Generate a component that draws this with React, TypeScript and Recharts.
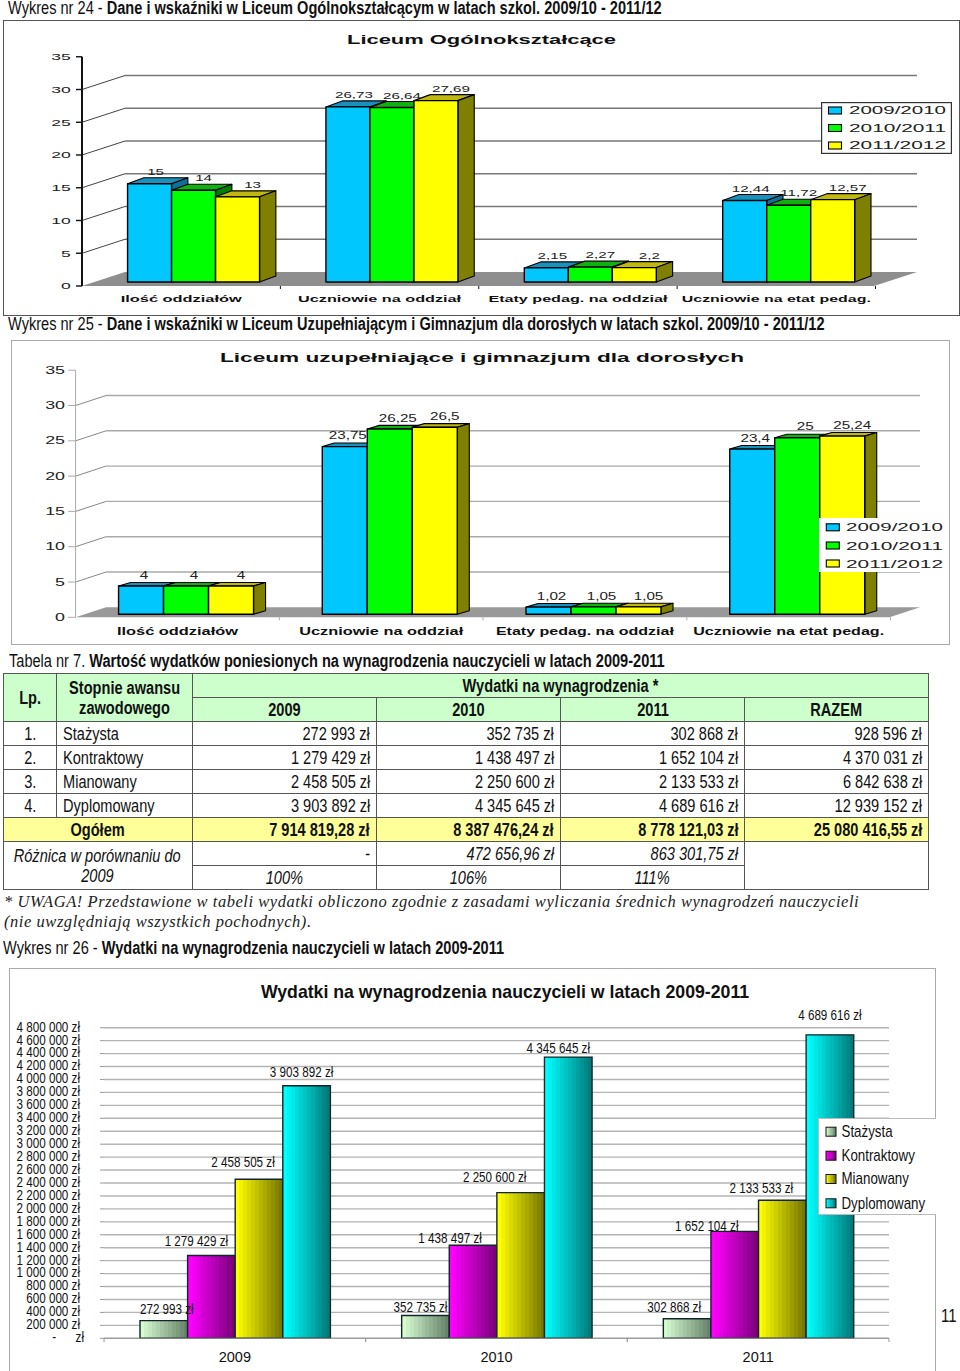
import React from "react";
import {
  BarChart,
  Bar,
  XAxis,
  YAxis,
  CartesianGrid,
  Legend,
  LabelList,
} from "recharts";

const schoolYears = ["2009/2010", "2010/2011", "2011/2012"];
const loCategories = ["Ilość oddziałów", "Uczniowie na oddział", "Etaty pedag. na oddział", "Uczniowie na etat pedag."];
const lo2009 = [15, 26.73, 2.15, 12.44];
const lo2010 = [14, 26.64, 2.27, 11.72];
const lo2011 = [13, 27.69, 2.2, 12.57];
const lu2009 = [4, 23.75, 1.02, 23.4];
const lu2010 = [4, 26.25, 1.05, 25];
const lu2011 = [4, 26.5, 1.05, 25.24];
const schoolTicks = [0, 5, 10, 15, 20, 25, 30, 35];

const grades = ["Stażysta", "Kontraktowy", "Mianowany", "Dyplomowany"];
const salaryYears = ["2009", "2010", "2011"];
const stazysta = [272993, 352735, 302868];
const kontraktowy = [1279429, 1438497, 1652104];
const mianowany = [2458505, 2250600, 2133533];
const dyplomowany = [3903892, 4345645, 4689616];
const razem = [928596, 4370031, 6842638, 12939152];
const ogolem = ["7 914 819,28 zł", "8 387 476,24 zł", "8 778 121,03 zł", "25 080 416,55 zł"];
const roznica = ["-", "472 656,96 zł", "863 301,75 zł"];
const procent = ["100%", "106%", "111%"];
const salaryTicks = [
  0, 200000, 400000, 600000, 800000, 1000000, 1200000, 1400000, 1600000, 1800000, 2000000, 2200000, 2400000,
  2600000, 2800000, 3000000, 3200000, 3400000, 3600000, 3800000, 4000000, 4200000, 4400000, 4600000, 4800000,
];

const SANS = "'Liberation Sans', Arial, sans-serif";
const NARROW_SX = 0.833;

const pln = (v: number) => String(v).replace(/\B(?=(\d{3})+$)/g, " ") + " zł";
const comma = (v: number) => String(v).replace(".", ",");

const faces = [
  { front: "#00c8ff", top: "#1a90bc", side: "#10709c" },
  { front: "#00ff00", top: "#10b010", side: "#008000" },
  { front: "#ffff00", top: "#c0b810", side: "#808000" },
];

// stretched text, the charts were pasted in wider or narrower than they were drawn
function Wide({ x, y, sx = 1, size, bold, anchor = "middle", fill = "#111", len, children }: any) {
  const extra = len ? { textLength: len, lengthAdjust: "spacingAndGlyphs" } : {};
  return (
    <text
      transform={`translate(${x},${y}) scale(${sx},1)`}
      textAnchor={anchor}
      dominantBaseline="central"
      fontFamily={SANS}
      fontSize={size}
      fontWeight={bold ? 700 : 400}
      fill={fill}
      {...extra}
    >
      {children}
    </text>
  );
}

function Box3D({ x, y, width, height, depthX, depthY, face }: any) {
  const r = x + width;
  const b = y + height;
  return (
    <g stroke="#000" strokeWidth={1.1} strokeLinejoin="round">
      <polygon points={`${x},${y} ${x + depthX},${y - depthY} ${r + depthX},${y - depthY} ${r},${y}`} fill={face.top} />
      <polygon points={`${r},${y} ${r + depthX},${y - depthY} ${r + depthX},${b - depthY} ${r},${b}`} fill={face.side} />
      <rect x={x} y={y} width={width} height={height} fill={face.front} strokeWidth={1.4} />
    </g>
  );
}

function SchoolChart({ g, title, cats, values }: any) {
  const data = cats.map((name: string, i: number) => ({
    name,
    a: values[0][i],
    b: values[1][i],
    c: values[2][i],
  }));
  const toY = (v: number) => v - g.frameY;
  const step = (g.plotRight - g.plotLeft) / cats.length;
  const ax = g.plotLeft - g.shiftX;
  const backX = ax + g.backDx;
  // back wall, floor and the slanted lines go through the grid so they stay behind the bars
  const wallLine = (p: any) => {
    const v = Math.round((toY(g.base) - p.y1) / g.unit);
    const fy = p.y1 + g.frontDy;
    const by = fy + g.backDy;
    if (v === 35) return <g key={v} />;
    if (v === 0) {
      return (
        <polygon
          key={v}
          points={`${ax},${fy} ${backX},${by} ${g.backRight},${by} ${g.backRight - g.backDx},${fy}`}
          fill={g.floor}
        />
      );
    }
    return (
      <g key={v}>
        <line x1={ax} x2={backX} y1={fy} y2={by} stroke={g.diag} strokeWidth={1} />
        <line x1={backX} x2={g.backRight} y1={by} y2={by} stroke={g.grid} strokeWidth={1.4} />
      </g>
    );
  };
  const yTick = (p: any) => {
    const v = p.payload.value;
    const fy = p.y + g.frontDy;
    return (
      <g key={v}>
        {v > 0 && <line x1={ax} x2={ax} y1={fy} y2={fy + 5 * g.unit} stroke={g.axis} strokeWidth={g.axisW} />}
        <line x1={ax - g.tick} x2={ax} y1={fy} y2={fy} stroke={g.axis} strokeWidth={g.axisW > 1.5 ? 1.4 : 1} />
        <Wide x={g.tickTextX} y={fy} sx={g.tickSx} size={g.tickFont} anchor="end" fill="#222">
          {v}
        </Wide>
      </g>
    );
  };
  const xTick = (p: any) => {
    const cx = p.x - g.shiftX;
    const bottom = toY(g.base) + g.frontDy;
    return (
      <g key={p.index}>
        <line x1={cx + step / 2} x2={cx + step / 2} y1={bottom} y2={bottom + 3} stroke={g.axis} />
        <Wide x={cx} y={toY(g.catY)} size={g.catFont} bold len={g.catLens[p.index]}>
          {p.payload.value}
        </Wide>
      </g>
    );
  };
  const legend = (p: any) => (
    <svg width={g.legend.w} height={g.legend.h} style={{ display: "block" }}>
      <rect x={0.5} y={0.5} width={g.legend.w - 1} height={g.legend.h - 1} fill="#fff" stroke={g.legend.border} strokeWidth={1.4} />
      {(p.payload || []).map((e: any, i: number) => (
        <g key={e.value}>
          <rect x={g.legend.swX} y={g.legend.rows[i] - 3.5} width={13} height={7} fill={e.color} stroke="#000" strokeWidth={1.1} />
          <Wide x={g.legend.textX} y={g.legend.rows[i]} size={g.legend.font} anchor="start" len={97} fill="#222">
            {e.value}
          </Wide>
        </g>
      ))}
    </svg>
  );
  const label = (i: number) => (p: any) => (
    <Wide x={p.x + p.width / 2 + g.labelDx[i]} y={p.y - g.labelUp} sx={g.labelSx} size={g.labelFont} fill="#222">
      {comma(p.value)}
    </Wide>
  );
  const keys = ["a", "b", "c"];
  return (
    <div style={{ position: "absolute", left: 0, top: g.frameY }}>
      <BarChart
        width={960}
        height={g.frameH}
        data={data}
        barCategoryGap="16.67%"
        barGap={0}
        margin={{
          left: g.plotLeft - 1,
          right: 960 - g.plotRight,
          top: toY(g.base - 35 * g.unit),
          bottom: g.frameH - toY(g.base) - 1,
        }}
      >
        <CartesianGrid vertical={false} horizontal={wallLine} />
        <YAxis
          width={1}
          domain={[0, 35]}
          ticks={schoolTicks}
          interval={0}
          axisLine={false}
          tickLine={false}
          tick={yTick}
        />
        <XAxis dataKey="name" height={1} interval={0} axisLine={false} tickLine={false} tick={xTick} />
        {keys.map((k, i) => (
          <Bar
            key={k}
            dataKey={k}
            name={schoolYears[i]}
            fill={faces[i].front}
            isAnimationActive={false}
            shape={(p: any) => <Box3D {...p} depthX={g.depthX} depthY={g.depthY} face={faces[i]} />}
          >
            <LabelList dataKey={k} content={label(i)} />
          </Bar>
        ))}
        <Legend
          layout="vertical"
          align="center"
          verticalAlign="middle"
          itemSorter={null}
          content={legend}
          wrapperStyle={{ left: g.legend.x, top: g.legend.y - g.frameY, width: g.legend.w, height: g.legend.h }}
        />
        <Wide x={g.titleX} y={toY(g.titleY)} size={g.titleFont} bold len={g.titleLen} fill="#111">
          {title}
        </Wide>
      </BarChart>
    </div>
  );
}

const loGeo = {
  frameY: 21, frameH: 294, plotLeft: 94.5, plotRight: 888, base: 282, unit: 6.55, shiftX: 12.5, frontDy: 4,
  backDx: 43, backDy: -14, backRight: 917, depthX: 16.3, depthY: 6, floor: "#8e8e8e", axis: "#111", axisW: 2,
  diag: "#444", grid: "#777", tick: 6, tickTextX: 70.7, tickSx: 1.85, tickFont: 9.5, catY: 299, catFont: 9,
  catLens: [121, 163, 179, 189], labelDx: [6, 10, 15], labelUp: 12, labelSx: 1.6, labelFont: 9.5, titleX: 481.5, titleY: 40,
  titleFont: 12, titleLen: 269,
  legend: { x: 820.5, y: 102, w: 131, h: 52, border: "#333", swX: 7.5, textX: 28, font: 10, rows: [8.5, 26, 43.5] },
};
const luGeo = {
  frameY: 340, frameH: 305, plotLeft: 84.6, plotRight: 899.5, base: 614.3, unit: 7.06, shiftX: 9, frontDy: 3,
  backDx: 30.5, backDy: -10, backRight: 920, depthX: 12, depthY: 3.6, floor: "#999", axis: "#aaa", axisW: 1,
  diag: "#888", grid: "#aaa", tick: 7.5, tickTextX: 65, tickSx: 1.7, tickFont: 10.5, catY: 631, catFont: 10,
  catLens: [121, 164, 178, 191], labelDx: [3, 8, 10], labelUp: 11, labelSx: 1.45, labelFont: 10.5, titleX: 482, titleY: 357,
  titleFont: 13.5, titleLen: 524,
  legend: { x: 819, y: 517.7, w: 130, h: 54.5, border: "#fff", swX: 7.3, textX: 27, font: 11, rows: [9.3, 27.5, 45.5] },
};

const bandFills = [
  { id: "band-st", from: [214, 252, 208], to: [104, 132, 108] },
  { id: "band-ko", from: [255, 0, 255], to: [124, 0, 124] },
  { id: "band-mi", from: [255, 255, 0], to: [120, 120, 0] },
  { id: "band-dy", from: [0, 255, 255], to: [0, 124, 124] },
];

function Bands({ id, from, to }: any) {
  const n = 12;
  const stops = [];
  for (let i = 0; i < n; i++) {
    const t = i / (n - 1);
    const c = from.map((f: number, k: number) => Math.round(f + (to[k] - f) * t));
    const col = `rgb(${c.join(",")})`;
    stops.push(<stop key={i + "a"} offset={i / n} stopColor={col} />);
    stops.push(<stop key={i + "b"} offset={(i + 1) / n} stopColor={col} />);
  }
  return (
    <linearGradient id={id} x1="0" x2="1" y1="0" y2="0">
      {stops}
    </linearGradient>
  );
}

const salaryData = salaryYears.map((name, i) => ({
  name,
  st: stazysta[i],
  ko: kontraktowy[i],
  mi: mianowany[i],
  dy: dyplomowany[i],
}));
const salaryKeys = ["st", "ko", "mi", "dy"];
// the labels were dragged around by hand in the original
const salaryLabelDx = [
  [3, -5, -13],
  [-15, -23, -28],
  [-16, -26, -21],
  [-5, -10, 0],
];
const salaryLabelUp = [
  [12, 8, 12],
  [14, 7, 5],
  [17, 16, 12],
  [14, 9, 20],
];
const legendRows = [13.7, 37.7, 61, 85.3];

function SalaryChart() {
  const yTick = (p: any) => (
    <g key={p.payload.value}>
      <line x1={100} x2={104} y1={p.y} y2={p.y} stroke="#999" />
      <Wide x={p.payload.value === 0 ? 84 : 80} y={p.y - 1} sx={NARROW_SX} size={14} anchor="end">
        {p.payload.value === 0 ? "-\u00a0\u00a0\u00a0\u00a0\u00a0\u00a0zł" : pln(p.payload.value)}
      </Wide>
    </g>
  );
  const xTick = (p: any) => (
    <g key={p.index}>
      <line x1={p.x - 130.8} x2={p.x - 130.8} y1={370.3} y2={374} stroke="#999" />
      <line x1={p.x + 130.8} x2={p.x + 130.8} y1={370.3} y2={374} stroke="#999" />
      <Wide x={p.x} y={389} size={14.5}>
        {p.payload.value}
      </Wide>
    </g>
  );
  const label = (s: number) => (p: any) => (
    <Wide
      x={p.x + p.width / 2 + salaryLabelDx[s][p.index]}
      y={p.y - salaryLabelUp[s][p.index]}
      sx={NARROW_SX}
      size={14}
    >
      {pln(p.value)}
    </Wide>
  );
  const legend = (p: any) => (
    <svg width={118} height={97} style={{ display: "block" }}>
      <rect x={0.5} y={0.5} width={120} height={96} fill="#fff" stroke="#bbb" />
      {(p.payload || []).map((e: any, i: number) => (
        <g key={e.value}>
          <rect x={8} y={legendRows[i] - 4.5} width={10} height={9} fill={e.color} stroke="#111" strokeWidth={1} />
          <Wide x={23.5} y={legendRows[i]} sx={NARROW_SX} size={16} anchor="start">
            {e.value}
          </Wide>
        </g>
      ))}
    </svg>
  );
  return (
    <div style={{ position: "absolute", left: 0, top: 968 }}>
      <BarChart
        width={960}
        height={403}
        data={salaryData}
        barSize={47.6}
        barGap={0}
        margin={{ left: 103, right: 71, top: 59.7, bottom: 31.7 }}
      >
        <defs>
          {bandFills.map((b) => (
            <Bands key={b.id} {...b} />
          ))}
        </defs>
        <CartesianGrid vertical={false} stroke="#b4b4b4" strokeWidth={1.4} />
        <YAxis
          width={1}
          domain={[0, 4800000]}
          ticks={salaryTicks}
          interval={0}
          axisLine={false}
          tickLine={false}
          tick={yTick}
        />
        <XAxis dataKey="name" height={1} interval={0} axisLine={{ stroke: "#999" }} tickLine={false} tick={xTick} />
        {salaryKeys.map((k, i) => (
          <Bar
            key={k}
            dataKey={k}
            name={grades[i]}
            fill={`url(#${bandFills[i].id})`}
            stroke="#12262a"
            strokeWidth={1.4}
            isAnimationActive={false}
          >
            <LabelList dataKey={k} content={label(i)} />
          </Bar>
        ))}
        <Legend
          layout="vertical"
          align="center"
          verticalAlign="middle"
          itemSorter={null}
          content={legend}
          wrapperStyle={{ left: 817.7, top: 150, width: 118, height: 97 }}
        />
        <Wide x={505} y={24} size={17.7} bold>
          Wydatki na wynagrodzenia nauczycieli w latach 2009-2011
        </Wide>
      </BarChart>
    </div>
  );
}

// narrow text in HTML: the font itself is normal width, so squeeze the box
function Sq({ o = "left", ml = 0, children }: any) {
  return (
    <span style={{ display: "inline-block", whiteSpace: "nowrap", marginLeft: ml, transform: `scaleX(${NARROW_SX})`, transformOrigin: o }}>
      {children}
    </span>
  );
}

function Head({ x, y, lh = 20, normal, bold }: any) {
  return (
    <div style={{ position: "absolute", left: x, top: y, fontFamily: SANS, fontSize: 17.5, lineHeight: `${lh}px`, height: lh, color: "#111" }}>
      <Sq>
        {normal}
        <b>{bold}</b>
      </Sq>
    </div>
  );
}

const cellBorder = "1.5px solid #555";
const cell: any = { border: cellBorder, padding: "0 6px", height: 24, lineHeight: "20px", boxSizing: "border-box", whiteSpace: "nowrap" };
const num: any = { ...cell, textAlign: "right" };
const headCell: any = { ...cell, background: "#ccffcc", textAlign: "center", fontWeight: 700, padding: 0 };
const sumCell: any = { ...cell, background: "#ffff99", fontWeight: 700, textAlign: "right" };

function SalaryTable() {
  const rows = [stazysta, kontraktowy, mianowany, dyplomowany];
  return (
    <table
      style={{
        position: "absolute",
        left: 3,
        top: 673,
        width: 925,
        borderCollapse: "collapse",
        tableLayout: "fixed",
        fontFamily: SANS,
        fontSize: 17.5,
        color: "#111",
      }}
    >
      <colgroup>
        {[53, 135.5, 184.4, 184, 184.3, 183.8].map((w, i) => (
          <col key={i} style={{ width: w }} />
        ))}
      </colgroup>
      <tbody>
        <tr>
          <td rowSpan={2} style={headCell}><Sq o="center">Lp.</Sq></td>
          <td rowSpan={2} style={headCell}>
            <Sq o="center">Stopnie awansu</Sq>
            <br />
            <Sq o="center">zawodowego</Sq>
          </td>
          <td colSpan={4} style={headCell}><Sq o="center">Wydatki na wynagrodzenia *</Sq></td>
        </tr>
        <tr>
          {[...salaryYears, "RAZEM"].map((t) => (
            <td key={t} style={headCell}><Sq o="center">{t}</Sq></td>
          ))}
        </tr>
        {grades.map((g, i) => (
          <tr key={g}>
            <td style={{ ...cell, textAlign: "center" }}><Sq o="center">{i + 1}.</Sq></td>
            <td style={cell}><Sq>{g}</Sq></td>
            {rows[i].map((v, k) => (
              <td key={k} style={num}><Sq o="right">{pln(v)}</Sq></td>
            ))}
            <td style={num}><Sq o="right">{pln(razem[i])}</Sq></td>
          </tr>
        ))}
        <tr>
          <td colSpan={2} style={{ ...sumCell, textAlign: "center" }}><Sq o="center">Ogółem</Sq></td>
          {ogolem.map((t) => (
            <td key={t} style={sumCell}><Sq o="right">{t}</Sq></td>
          ))}
        </tr>
        <tr>
          <td colSpan={2} rowSpan={2} style={{ ...cell, textAlign: "center", fontStyle: "italic", padding: 0 }}>
            <Sq o="center" ml={-7}>Różnica w porównaniu do</Sq>
            <br />
            <Sq o="center">2009</Sq>
          </td>
          {roznica.map((t) => (
            <td key={t} style={{ ...num, fontStyle: "italic" }}><Sq o="right">{t}</Sq></td>
          ))}
          <td rowSpan={2} style={cell}></td>
        </tr>
        <tr>
          {procent.map((t) => (
            <td key={t} style={{ ...cell, textAlign: "center", fontStyle: "italic" }}><Sq o="center">{t}</Sq></td>
          ))}
        </tr>
      </tbody>
    </table>
  );
}

export default function App() {
  return (
    <div style={{ position: "absolute", left: 0, top: 0, width: 960, height: 1371, background: "#fff", overflow: "hidden" }}>
      <Head x={8} y={0} lh={16} normal="Wykres nr 24 - " bold="Dane i wskaźniki w Liceum Ogólnokształcącym w latach szkol. 2009/10 - 2011/12" />
      <div style={{ position: "absolute", left: 3, top: 20, width: 957, height: 296, border: "1.5px solid #555", boxSizing: "border-box" }} />
      <SchoolChart g={loGeo} title="Liceum Ogólnokształcące" cats={loCategories} values={[lo2009, lo2010, lo2011]} />
      <Head x={8} y={314} normal="Wykres nr 25 - " bold="Dane i wskaźniki w Liceum Uzupełniającym i Gimnazjum dla dorosłych w latach szkol. 2009/10 - 2011/12" />
      <div style={{ position: "absolute", left: 11, top: 340, width: 939, height: 305, border: "1.5px solid #aaa", boxSizing: "border-box" }} />
      <SchoolChart g={luGeo} title="Liceum uzupełniające i gimnazjum dla dorosłych" cats={loCategories} values={[lu2009, lu2010, lu2011]} />
      <Head x={9} y={651} normal="Tabela nr 7. " bold="Wartość wydatków poniesionych na wynagrodzenia nauczycieli w latach 2009-2011" />
      <SalaryTable />
      <div style={{ position: "absolute", left: 4, top: 892, fontFamily: "'Liberation Serif', serif", fontStyle: "italic", fontSize: 16.5, lineHeight: "20px", color: "#222", whiteSpace: "nowrap", letterSpacing: 0.55 }}>
        * UWAGA! Przedstawione w tabeli wydatki obliczono zgodnie z zasadami wyliczania średnich wynagrodzeń nauczycieli
        <br />
        (nie uwzględniają wszystkich pochodnych).
      </div>
      <Head x={3} y={938} normal="Wykres nr 26 - " bold="Wydatki na wynagrodzenia nauczycieli w latach 2009-2011" />
      <div style={{ position: "absolute", left: 9, top: 968, width: 927, height: 420, border: "1.5px solid #aaa", boxSizing: "border-box" }} />
      <SalaryChart />
      <div style={{ position: "absolute", left: 941, top: 1306, fontFamily: SANS, fontSize: 18, lineHeight: "20px", color: "#111" }}><Sq>11</Sq></div>
    </div>
  );
}
